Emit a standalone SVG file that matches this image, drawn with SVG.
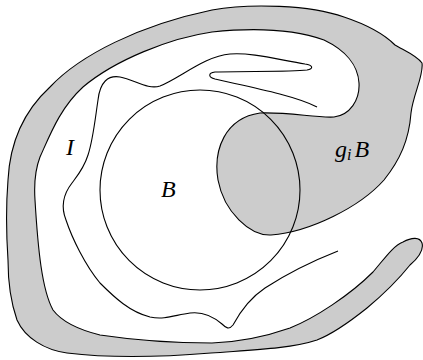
<svg xmlns="http://www.w3.org/2000/svg" width="423" height="360" viewBox="0 0 423 360">
<style>
.region{fill:#cccccc;stroke:#000;stroke-width:1.1;stroke-linejoin:round}
.line{fill:none;stroke:#000;stroke-width:1.1}
.lbl{font-family:"Liberation Serif","Times New Roman",serif;font-style:italic;font-size:24px;fill:#000}
</style>
<rect width="423" height="360" fill="#fff"/>
<g id="gB">
<path class="region" d="M 8,260 C 6,230 6,205 8,180 C 10,140 25,110 50,87 C 80,55 140,25 212,10 C 250,3 310,5 344,17 C 365,24 383,33 395,45 C 403,50 416,55 422,63 C 424,75 413,95 411,113 C 409,140 400,160 384,180 C 360,207 310,232 271,235 C 250,236 224,212 218,180 C 213,150 225,118 260,113 C 290,112 315,118 334,117 C 350,115 360,100 359,83 C 358,65 345,50 324,40 C 290,28 250,28 212,32 C 170,38 115,60 83,87 C 60,108 50,135 40,157 C 35,170 34,185 35,200 C 38,250 42,290 53,310 C 62,322 80,330 100,335 C 140,341 180,343 212,343 C 240,342 270,335 290,328 C 315,318 350,295 373,272 C 385,258 393,246 403,242 C 412,237 420,237 422,243 C 424,250 418,258 410,265 C 402,275 385,293 367,308 C 352,320 335,333 317,340 C 290,349 250,350 211,353 C 150,358 100,357 67,353 C 45,350 25,338 17,320 C 10,300 8,280 8,260 Z"/>
<text class="lbl" x="335" y="157">g<tspan font-size="16" dy="3">i</tspan><tspan dx="3" dy="-3">B</tspan></text>
</g>
<g id="I">
<path class="line" d="M 317,107 C 295,95 240,85 215,79 C 208,77 208,73 215,72 C 245,71 290,72 307,70 C 314,69 313,65 305,64 C 280,60 250,52 230,54 C 205,56 180,78 160,86 C 148,90 135,80 120,77 C 108,75 100,82 98,100 C 95,120 93,140 88,155 C 84,168 78,175 72,183 C 65,192 60,205 66,220 C 72,238 85,265 100,283 C 115,298 130,312 150,317 C 165,320 175,315 190,313 C 205,311 215,318 222,324 C 226,328 229,330 233,325 C 240,312 250,298 265,288 C 285,275 310,262 338,251"/>
<text class="lbl" x="66" y="155">I</text>
</g>
<g id="B">
<circle class="line" cx="200" cy="190" r="100"/>
<text class="lbl" x="161" y="197">B</text>
</g>
</svg>
